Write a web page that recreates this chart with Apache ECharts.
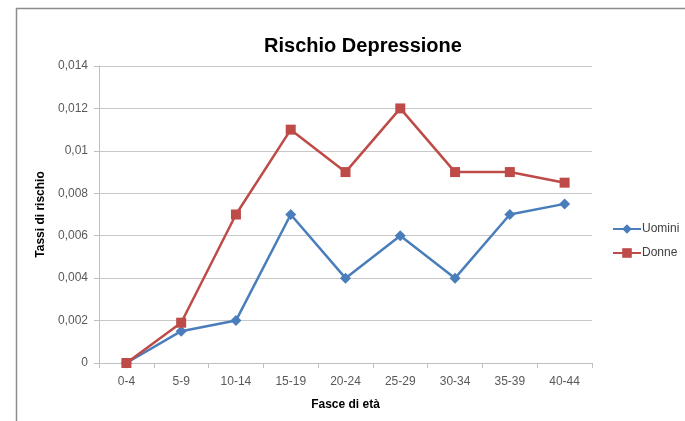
<!DOCTYPE html>
<html>
<head>
<meta charset="utf-8">
<script src="https://cdn.jsdelivr.net/npm/echarts@6/dist/echarts.min.js"></script>
<style>
  html, body { margin: 0; padding: 0; background: #fff; }
  #chart { width: 685px; height: 421px; }
</style>
</head>
<body>
<div id="chart"></div>
<script>
// Age bands and risk rates per sex
const fasceEta = ['0-4', '5-9', '10-14', '15-19', '20-24', '25-29', '30-34', '35-39', '40-44'];
const uomini = [0, 0.0015, 0.002, 0.007, 0.004, 0.006, 0.004, 0.007, 0.0075];
const donne = [0, 0.0019, 0.007, 0.011, 0.009, 0.012, 0.009, 0.009, 0.0085];

const FONT = '"Liberation Sans", Arial, sans-serif';
const chart = echarts.init(document.getElementById('chart'), null, { renderer: 'canvas' });

function itNumber(v) {
  return String(parseFloat(v.toFixed(4))).replace('.', ',');
}

chart.setOption({
  animation: false,
  backgroundColor: '#ffffff',
  graphic: [{
    type: 'rect',
    shape: { x: 16.5, y: 8.5, width: 700, height: 450 },
    style: { fill: 'none', stroke: '#8c8c8c', lineWidth: 1.5 },
    silent: true
  }],
  title: {
    text: 'Rischio Depressione',
    left: 358,
    textAlign: 'center',
    top: 31,
    textStyle: { fontFamily: FONT, fontSize: 20, fontWeight: 'bold', color: '#000' }
  },
  legend: {
    orient: 'vertical',
    left: 607,
    top: 218,
    itemWidth: 28,
    itemHeight: 12,
    itemGap: 12,
    textStyle: { fontFamily: FONT, fontSize: 12, color: '#404040', padding: [0, 0, 0, -4] },
    data: ['Uomini', 'Donne']
  },
  grid: { left: 99, right: 93, top: 66, bottom: 58, containLabel: false },
  xAxis: {
    type: 'category',
    data: fasceEta,
    boundaryGap: true,
    name: 'Fasce di età',
    nameLocation: 'middle',
    nameGap: 36,
    nameTextStyle: { fontFamily: FONT, fontSize: 12, fontWeight: 'bold', color: '#000' },
    axisLine: { lineStyle: { color: '#bfbfbf', width: 1 } },
    axisTick: { show: true, alignWithLabel: false, length: 5, lineStyle: { color: '#bfbfbf' } },
    axisLabel: { fontFamily: FONT, fontSize: 12, color: '#595959', margin: 13, interval: 0 },
    splitLine: { show: false }
  },
  yAxis: {
    type: 'value',
    min: 0,
    max: 0.014,
    interval: 0.002,
    name: 'Tassi di rischio',
    nameLocation: 'middle',
    nameGap: 50,
    nameTextStyle: { fontFamily: FONT, fontSize: 12, fontWeight: 'bold', color: '#000' },
    axisLine: { show: true, lineStyle: { color: '#bfbfbf', width: 1 } },
    axisTick: { show: true, length: 5, lineStyle: { color: '#bfbfbf' } },
    axisLabel: { fontFamily: FONT, fontSize: 12, color: '#595959', margin: 11, formatter: itNumber },
    splitLine: { show: true, lineStyle: { color: '#c8c8c8', width: 1 } }
  },
  series: [
    {
      name: 'Uomini',
      type: 'line',
      data: uomini,
      color: '#4a7ebb',
      symbol: 'diamond',
      symbolSize: 11,
      lineStyle: { width: 2.5, color: '#4a7ebb' },
      itemStyle: { color: '#4a7ebb' },
      z: 2
    },
    {
      name: 'Donne',
      type: 'line',
      data: donne,
      color: '#be4b48',
      symbol: 'rect',
      symbolSize: 10,
      lineStyle: { width: 2.5, color: '#be4b48' },
      itemStyle: { color: '#be4b48' },
      z: 3
    }
  ]
});
</script>
</body>
</html>
